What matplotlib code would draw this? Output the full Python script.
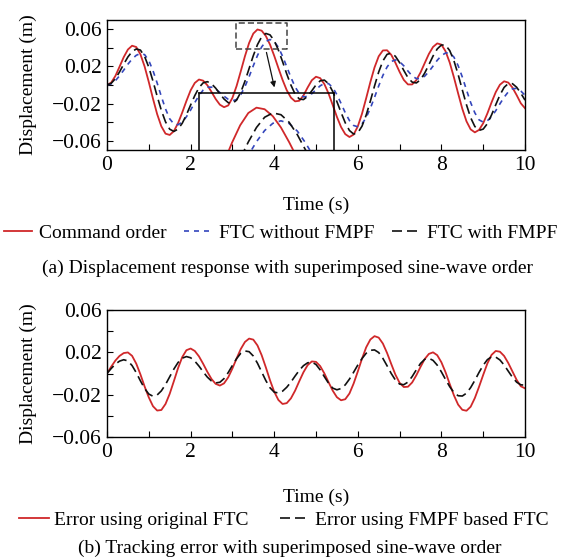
import matplotlib
matplotlib.use("Agg")
import matplotlib.pyplot as plt
from matplotlib.lines import Line2D

plt.rcParams['font.family'] = ['Liberation Serif', 'DejaVu Serif']
plt.rcParams['axes.unicode_minus'] = True

# time axis, 0 to 10 s in 0.1 s steps
t = [i / 10 for i in range(101)]

# (a) displacement response (m)
command_order = [
    0.0000, 0.0026, 0.0097, 0.0197, 0.0300, 0.0382, 0.0423, 0.0409, 0.0330, 0.0199,
    0.0032, -0.0147, -0.0314, -0.0445, -0.0524, -0.0538, -0.0497, -0.0411, -0.0296, -0.0172,
    -0.0058, 0.0022, 0.0059, 0.0047, -0.0002, -0.0074, -0.0151, -0.0212, -0.0239, -0.0220,
    -0.0139, -0.0011, 0.0147, 0.0310, 0.0453, 0.0554, 0.0598, 0.0585, 0.0528, 0.0435,
    0.0315, 0.0183, 0.0055, -0.0056, -0.0136, -0.0176, -0.0170, -0.0113, -0.0027, 0.0051,
    0.0089, 0.0074, 0.0010, -0.0091, -0.0216, -0.0343, -0.0453, -0.0529, -0.0560, -0.0534,
    -0.0446, -0.0310, -0.0143, 0.0031, 0.0189, 0.0309, 0.0372, 0.0374, 0.0325, 0.0239,
    0.0141, 0.0055, 0.0006, 0.0006, 0.0052, 0.0134, 0.0235, 0.0334, 0.0410, 0.0448,
    0.0435, 0.0363, 0.0240, 0.0082, -0.0090, -0.0256, -0.0391, -0.0478, -0.0510, -0.0484,
    -0.0412, -0.0306, -0.0187, -0.0077, 0.0003, 0.0040, 0.0026, -0.0028, -0.0109, -0.0197,
    -0.0250]
ftc_without = [
    0.0000, 0.0012, 0.0046, 0.0099, 0.0160, 0.0224, 0.0279, 0.0320, 0.0339, 0.0327,
    0.0263, 0.0155, 0.0021, -0.0124, -0.0258, -0.0364, -0.0420, -0.0428, -0.0399, -0.0342,
    -0.0270, -0.0189, -0.0115, -0.0055, -0.0024, -0.0023, -0.0044, -0.0081, -0.0121, -0.0154,
    -0.0170, -0.0157, -0.0104, -0.0017, 0.0090, 0.0207, 0.0318, 0.0410, 0.0469, 0.0490,
    0.0468, 0.0406, 0.0310, 0.0197, 0.0082, -0.0020, -0.0093, -0.0128, -0.0123, -0.0094,
    -0.0050, -0.0009, 0.0017, 0.0015, -0.0027, -0.0104, -0.0199, -0.0299, -0.0383, -0.0436,
    -0.0450, -0.0420, -0.0351, -0.0251, -0.0133, -0.0010, 0.0103, 0.0194, 0.0253, 0.0270,
    0.0251, 0.0207, 0.0150, 0.0098, 0.0069, 0.0068, 0.0095, 0.0144, 0.0204, 0.0266,
    0.0316, 0.0345, 0.0346, 0.0300, 0.0209, 0.0086, -0.0053, -0.0189, -0.0300, -0.0375,
    -0.0400, -0.0385, -0.0341, -0.0277, -0.0203, -0.0132, -0.0074, -0.0041, -0.0036, -0.0065,
    -0.0110]
ftc_with = [
    0.0000, 0.0018, 0.0068, 0.0141, 0.0224, 0.0302, 0.0360, 0.0388, 0.0376, 0.0307,
    0.0191, 0.0042, -0.0121, -0.0273, -0.0397, -0.0476, -0.0500, -0.0475, -0.0412, -0.0321,
    -0.0216, -0.0114, -0.0029, 0.0023, 0.0036, 0.0014, -0.0034, -0.0094, -0.0151, -0.0190,
    -0.0200, -0.0163, -0.0078, 0.0040, 0.0178, 0.0316, 0.0435, 0.0519, 0.0555, 0.0540,
    0.0478, 0.0377, 0.0252, 0.0119, -0.0001, -0.0098, -0.0151, -0.0157, -0.0122, -0.0062,
    0.0001, 0.0045, 0.0053, 0.0014, -0.0070, -0.0179, -0.0296, -0.0407, -0.0490, -0.0528,
    -0.0515, -0.0444, -0.0325, -0.0174, -0.0011, 0.0140, 0.0259, 0.0330, 0.0343, 0.0309,
    0.0241, 0.0157, 0.0079, 0.0031, 0.0022, 0.0056, 0.0128, 0.0218, 0.0312, 0.0388,
    0.0431, 0.0429, 0.0370, 0.0261, 0.0114, -0.0052, -0.0213, -0.0352, -0.0447, -0.0489,
    -0.0475, -0.0416, -0.0322, -0.0213, -0.0108, -0.0026, 0.0016, 0.0014, -0.0024, -0.0088,
    -0.0163]

# (b) tracking error (m)
err_original = [
    0.0000, 0.0064, 0.0122, 0.0166, 0.0193, 0.0199, 0.0167, 0.0093, -0.0009, -0.0123,
    -0.0226, -0.0309, -0.0350, -0.0345, -0.0288, -0.0192, -0.0072, 0.0051, 0.0155, 0.0220,
    0.0236, 0.0213, 0.0162, 0.0092, 0.0016, -0.0052, -0.0098, -0.0114, -0.0093, -0.0036,
    0.0047, 0.0142, 0.0231, 0.0298, 0.0330, 0.0320, 0.0265, 0.0173, 0.0058, -0.0064,
    -0.0172, -0.0250, -0.0288, -0.0280, -0.0235, -0.0162, -0.0073, 0.0012, 0.0079, 0.0114,
    0.0110, 0.0070, 0.0001, -0.0082, -0.0162, -0.0224, -0.0253, -0.0243, -0.0189, -0.0095,
    0.0019, 0.0139, 0.0247, 0.0321, 0.0353, 0.0339, 0.0283, 0.0194, 0.0090, -0.0011,
    -0.0088, -0.0128, -0.0125, -0.0085, -0.0017, 0.0062, 0.0136, 0.0185, 0.0200, 0.0173,
    0.0106, 0.0011, -0.0100, -0.0207, -0.0294, -0.0343, -0.0352, -0.0314, -0.0232, -0.0126,
    -0.0013, 0.0095, 0.0176, 0.0213, 0.0206, 0.0166, 0.0099, 0.0019, -0.0060, -0.0121,
    -0.0140]
err_fmpf = [
    0.0000, 0.0047, 0.0088, 0.0117, 0.0130, 0.0119, 0.0075, 0.0008, -0.0070, -0.0142,
    -0.0194, -0.0215, -0.0203, -0.0164, -0.0104, -0.0031, 0.0042, 0.0104, 0.0145, 0.0160,
    0.0149, 0.0117, 0.0070, 0.0016, -0.0034, -0.0071, -0.0089, -0.0083, -0.0048, 0.0009,
    0.0076, 0.0140, 0.0191, 0.0213, 0.0206, 0.0165, 0.0097, 0.0015, -0.0067, -0.0135,
    -0.0176, -0.0184, -0.0167, -0.0130, -0.0081, -0.0024, 0.0030, 0.0074, 0.0101, 0.0108,
    0.0085, 0.0034, -0.0030, -0.0092, -0.0138, -0.0154, -0.0142, -0.0107, -0.0053, 0.0012,
    0.0080, 0.0141, 0.0191, 0.0219, 0.0223, 0.0198, 0.0143, 0.0073, 0.0000, -0.0062,
    -0.0100, -0.0106, -0.0081, -0.0029, 0.0035, 0.0095, 0.0134, 0.0144, 0.0124, 0.0079,
    0.0015, -0.0057, -0.0125, -0.0180, -0.0210, -0.0213, -0.0186, -0.0133, -0.0065, 0.0010,
    0.0078, 0.0131, 0.0158, 0.0155, 0.0128, 0.0080, 0.0022, -0.0036, -0.0082, -0.0107,
    -0.0110]

x_ticks = list(range(11))
x_labels = [str(v) if v % 2 == 0 else '' for v in x_ticks]
y_ticks = [-0.06, -0.04, -0.02, 0.0, 0.02, 0.04, 0.06]
y_labels = ['\u22120.06', '', '\u22120.02', '', '0.02', '', '0.06']

RED = '#d0282a'
BLUE = '#3446bc'
BLK = '#111111'
TICK_FS = 15.5
LAB_FS = 14

fig = plt.figure(figsize=(5.68, 5.6), dpi=100)


def style_axes(ax, ylim):
    ax.set_xlim(0, 10)
    ax.set_ylim(*ylim)
    ax.set_xticks(x_ticks)
    ax.set_xticklabels(x_labels, fontsize=TICK_FS)
    ax.set_yticks(y_ticks)
    ax.set_yticklabels(y_labels, fontsize=TICK_FS)
    ax.tick_params(direction='in', length=4, width=0.8, pad=4)
    for s in ax.spines.values():
        s.set_linewidth(1.0)
    ax.set_ylabel('Displacement (m)', fontsize=LAB_FS)
    ax.yaxis.set_label_coords(-0.168, 0.5)


# ---- (a) displacement response ----
ax1 = fig.add_axes([107 / 568, 1 - 150 / 560, 418 / 568, 130 / 560])
ax1.plot(t, command_order, color=RED, lw=1.3)
ax1.plot(t, ftc_without, color=BLUE, lw=1.2, dashes=(3, 3))
ax1.plot(t, ftc_with, color=BLK, lw=1.2, dashes=(6, 3))
style_axes(ax1, (-0.07, 0.07))

# dashed box around the peak and arrow to the enlarged view
box_x = [3.09, 4.30, 4.30, 3.09, 3.09]
box_y = [0.039, 0.039, 0.0665, 0.0665, 0.039]
ax1.plot(box_x, box_y, color='#444444', lw=1.1, dashes=(4, 2))
ax1.annotate('', xy=(4.02, -0.0055), xytext=(3.80, 0.038),
             arrowprops=dict(arrowstyle='-|>', color=BLK, lw=0.9, mutation_scale=8))

ins = ax1.inset_axes([2.21, -0.07, 3.22, 0.0616], transform=ax1.transData)
ins.patch.set_alpha(0)
ins.plot(t, command_order, color=RED, lw=1.3)
ins.plot(t, ftc_without, color=BLUE, lw=1.2, dashes=(3, 3))
ins.plot(t, ftc_with, color=BLK, lw=1.2, dashes=(6, 3))
ins.set_xlim(2.9, 4.55)
ins.set_ylim(0.025, 0.072)
ins.set_xticks([])
ins.set_yticks([])
ins.spines['bottom'].set_visible(False)
for k in ['left', 'top', 'right']:
    ins.spines[k].set_linewidth(1.1)

fig.text(316 / 568, 1 - 205 / 560, 'Time (s)', ha='center', va='center', fontsize=LAB_FS)
h1 = [Line2D([], [], color=RED, lw=1.3),
      Line2D([], [], color=BLUE, lw=1.2, dashes=(3, 3)),
      Line2D([], [], color=BLK, lw=1.2, dashes=(6, 3))]
fig.legend(h1, ['Command order', 'FTC without FMPF', 'FTC with FMPF'],
           loc='center', bbox_to_anchor=(281 / 568, 1 - 233 / 560), ncol=3,
           frameon=False, fontsize=LAB_FS, handlelength=1.4, handletextpad=0.4,
           columnspacing=0.9, borderpad=0)
fig.text(287 / 568, 1 - 268 / 560, '(a) Displacement response with superimposed sine-wave order',
         ha='center', va='center', fontsize=LAB_FS)

# ---- (b) tracking error ----
ax2 = fig.add_axes([107 / 568, 1 - 437 / 560, 418 / 568, 127 / 560])
ax2.plot(t, err_original, color=RED, lw=1.3)
ax2.plot(t, err_fmpf, color=BLK, lw=1.2, dashes=(6, 3))
style_axes(ax2, (-0.06, 0.06))

fig.text(316 / 568, 1 - 497 / 560, 'Time (s)', ha='center', va='center', fontsize=LAB_FS)
h2 = [Line2D([], [], color=RED, lw=1.3),
      Line2D([], [], color=BLK, lw=1.2, dashes=(6, 3))]
fig.legend(h2, ['Error using original FTC', 'Error using FMPF based FTC'],
           loc='center', bbox_to_anchor=(284 / 568, 1 - 520 / 560), ncol=2,
           frameon=False, fontsize=LAB_FS, handlelength=1.5, handletextpad=0.3,
           columnspacing=1.6, borderpad=0)
fig.text(290 / 568, 1 - 548 / 560, '(b) Tracking error with superimposed sine-wave order',
         ha='center', va='center', fontsize=LAB_FS)

fig.savefig('out.png', dpi=100)
